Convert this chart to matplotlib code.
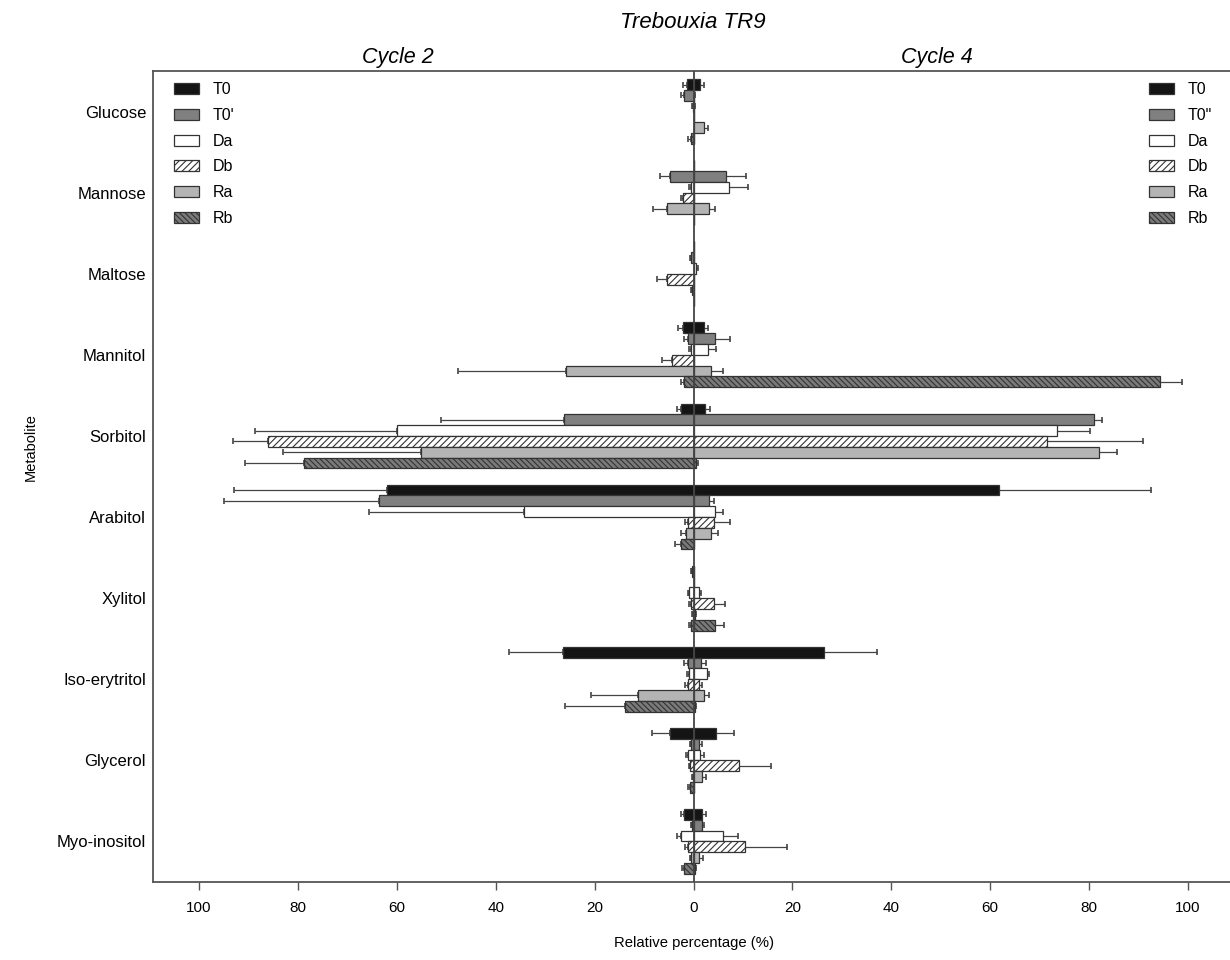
import numpy as np
import matplotlib.pyplot as plt

plt.rcParams['font.family'] = ['Liberation Sans', 'DejaVu Sans']
plt.rcParams['hatch.linewidth'] = 0.8

metabolites = ['Glucose', 'Mannose', 'Maltose', 'Mannitol', 'Sorbitol',
               'Arabitol', 'Xylitol', 'Iso-erytritol', 'Glycerol', 'Myo-inositol']

labels_c2 = ['T0', "T0'", 'Da', 'Db', 'Ra', 'Rb']
labels_c4 = ['T0', 'T0"', 'Da', 'Db', 'Ra', 'Rb']

# Cycle 2 (drawn to the left), means and errors
t0_c2 = [1.4, 0, 0, 2.1, 2.6, 62.0, 0.3, 26.4, 4.7, 1.9]
t0_c2_err = [0.7, 0, 0, 0.95, 0.65, 30.9, 0.2, 11.0, 3.7, 0.7]
t0p_c2 = [1.9, 4.7, 0.5, 1.2, 26.2, 63.6, 0, 1.2, 0.5, 0.3]
t0p_c2_err = [0.7, 2.0, 0.3, 0.8, 24.9, 31.3, 0, 0.8, 0.3, 0.2]
da_c2 = [0.2, 0.5, 0, 0.5, 59.9, 34.2, 0.9, 1.0, 1.1, 2.6]
da_c2_err = [0.1, 0.5, 0, 0.5, 28.8, 31.4, 0.3, 0.4, 0.5, 0.8]
db_c2 = [0, 2.2, 5.3, 4.3, 86.0, 1.2, 0.6, 1.2, 0.7, 1.2]
db_c2_err = [0, 0.3, 2.1, 2.0, 7.1, 0.5, 0.3, 0.6, 0.3, 0.5]
ra_c2 = [0, 5.3, 0.3, 25.8, 55.1, 1.6, 0.2, 11.2, 0.2, 0.5]
ra_c2_err = [0, 2.9, 0.2, 21.9, 27.9, 0.9, 0.1, 9.6, 0.1, 0.3]
rb_c2 = [0.5, 0, 0, 1.9, 78.7, 2.6, 0.6, 13.9, 0.8, 2.0]
rb_c2_err = [0.7, 0, 0, 0.7, 12.0, 1.1, 0.3, 12.0, 0.3, 0.4]

# Cycle 4 (drawn to the right)
t0_c4 = [1.4, 0, 0, 2.2, 2.4, 61.7, 0, 26.4, 4.5, 1.8]
t0_c4_err = [0.7, 0, 0, 0.8, 1.0, 30.8, 0, 10.8, 3.7, 0.7]
t0p_c4 = [0.2, 6.6, 0, 4.3, 80.9, 3.2, 0, 1.5, 1.1, 1.8]
t0p_c4_err = [0.1, 4.1, 0, 3.0, 1.7, 0.9, 0, 1.1, 0.7, 0.4]
da_c4 = [0.2, 7.2, 0.6, 2.9, 73.5, 4.4, 1.1, 2.8, 1.35, 6.0]
da_c4_err = [0.1, 3.8, 0.4, 1.7, 6.6, 1.5, 0.4, 0.3, 0.7, 3.0]
db_c4 = [0, 0, 0, 0, 71.4, 4.2, 4.2, 1.1, 9.3, 10.4]
db_c4_err = [0, 0, 0, 0, 19.4, 3.2, 2.2, 0.7, 6.4, 8.5]
ra_c4 = [2.2, 3.2, 0, 3.6, 82.0, 3.6, 0.3, 2.2, 1.8, 1.15]
ra_c4_err = [0.8, 1.1, 0, 2.3, 3.7, 1.3, 0.2, 0.9, 0.75, 0.7]
rb_c4 = [0, 0, 0, 94.3, 0.6, 0, 4.4, 0.3, 0, 0.3]
rb_c4_err = [0, 0, 0, 4.4, 0.4, 0, 1.8, 0.2, 0, 0.2]

cycle2 = [(t0_c2, t0_c2_err), (t0p_c2, t0p_c2_err), (da_c2, da_c2_err),
          (db_c2, db_c2_err), (ra_c2, ra_c2_err), (rb_c2, rb_c2_err)]
cycle4 = [(t0_c4, t0_c4_err), (t0p_c4, t0p_c4_err), (da_c4, da_c4_err),
          (db_c4, db_c4_err), (ra_c4, ra_c4_err), (rb_c4, rb_c4_err)]

# fill, hatch
styles = [('#141414', None), ('#808080', None), ('#ffffff', None),
          ('#ffffff', '/////'), ('#b4b4b4', None), ('#7a7a7a', '\\\\\\\\\\\\')]
edge = '#333333'

fig = plt.figure(figsize=(12.3, 9.6), dpi=100)
ax = fig.add_axes([153/1230, 78/960, 1081/1230, 811/960])

y = np.arange(len(metabolites))
h = 0.133

handles_l = []
handles_r = []
for i in range(6):
    yy = y + (i - 2.5) * h
    col, hat = styles[i]
    v2, e2 = cycle2[i]
    v4, e4 = cycle4[i]
    v2 = np.array(v2)
    v4 = np.array(v4)
    b2 = ax.barh(yy, -v2, height=h, color=col, edgecolor=edge, linewidth=0.9, hatch=hat, zorder=2)
    b4 = ax.barh(yy, v4, height=h, color=col, edgecolor=edge, linewidth=0.9, hatch=hat, zorder=2)
    handles_l.append(b2)
    handles_r.append(b4)
    m2 = np.array(e2) > 0
    ax.errorbar(-v2[m2], yy[m2], xerr=[np.array(e2)[m2], np.zeros(m2.sum())], fmt='none',
                ecolor='#444444', elinewidth=0.9, capsize=2.5, capthick=1.2, zorder=1)
    m4 = np.array(e4) > 0
    ax.errorbar(v4[m4], yy[m4], xerr=[np.zeros(m4.sum()), np.array(e4)[m4]], fmt='none',
                ecolor='#444444', elinewidth=0.9, capsize=2.5, capthick=1.2, zorder=1)

ax.axvline(0, color='#444444', linewidth=1.3, zorder=3)

ax.set_xlim(-109.3, 109.3)
ax.set_ylim(len(metabolites) - 0.5, -0.5)
ax.set_yticks(y)
ax.set_yticklabels(metabolites, fontsize=12)
xt = np.arange(-100, 101, 20)
ax.set_xticks(xt)
ax.set_xticklabels([str(abs(v)) for v in xt], fontsize=11)
ax.tick_params(axis='y', length=0, pad=5)
ax.tick_params(axis='x', length=6, width=1, color='#555555', pad=8)

for s in ['left', 'bottom', 'top']:
    ax.spines[s].set_color('#555555')
    ax.spines[s].set_linewidth(1.3)
ax.spines['right'].set_visible(False)

ax.set_xlabel('Relative percentage (%)', fontsize=10.7, labelpad=15)
ax.set_ylabel('Metabolite', fontsize=10.5)
ax.yaxis.set_label_coords(-0.107, 0.536)

fig.text(693/1230, 1 - 22/960, 'Trebouxia TR9', fontsize=16, style='italic', ha='center', va='center')
fig.text(398/1230, 1 - 57/960, 'Cycle 2', fontsize=15.5, style='italic', ha='center', va='center')
fig.text(937/1230, 1 - 57/960, 'Cycle 4', fontsize=15.5, style='italic', ha='center', va='center')

leg1 = ax.legend(handles_l, labels_c2, loc='upper left', bbox_to_anchor=(160/1230, 1 - 68/960),
                 bbox_transform=fig.transFigure, frameon=False, fontsize=11.5, labelspacing=0.67,
                 handlelength=1.56, handleheight=0.7, handletextpad=0.85)
ax.add_artist(leg1)
ax.legend(handles_r, labels_c4, loc='upper right', bbox_to_anchor=(1226/1230, 1 - 68/960),
          bbox_transform=fig.transFigure, frameon=False, fontsize=11.5, labelspacing=0.67,
          handlelength=1.56, handleheight=0.7, handletextpad=0.85)

fig.savefig('out.png', dpi=100)
